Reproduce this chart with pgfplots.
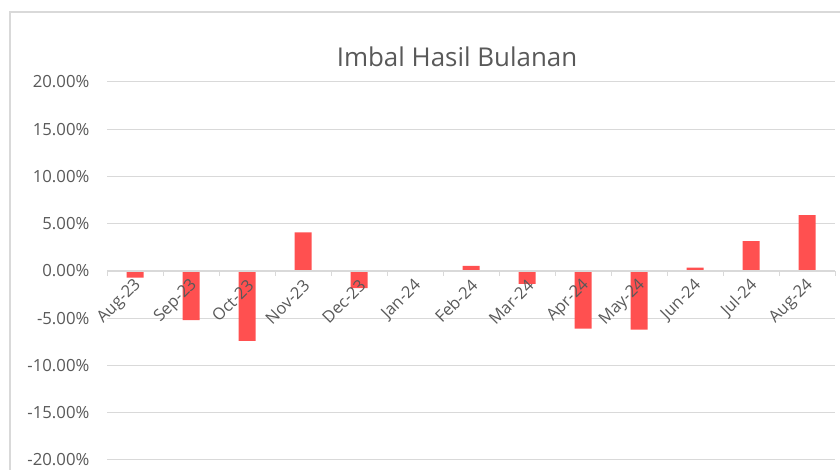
\documentclass[border=0pt]{standalone}
\usepackage{fontspec}
\setmainfont{Open Sans}
\usepackage{pgfplots}
\pgfplotsset{compat=1.18}
\definecolor{txt}{HTML}{595959}
\definecolor{grid}{HTML}{D9D9D9}
\definecolor{barred}{HTML}{FF5050}
\begin{document}
\begin{tikzpicture}
\useasboundingbox (0,0) rectangle (840bp,470bp);
\draw[grid, line width=1.2bp] (10bp,0) -- (10bp,458bp) -- (840bp,458bp);
\begin{axis}[
  axis on top,
  at={(107bp,10bp)}, anchor=south west,
  scale only axis, width=728bp, height=378bp,
  xmin=-0.5, xmax=12.5, ymin=-20, ymax=20,
  axis x line=middle, axis y line=left,
  x axis line style={-, grid, line width=1.2bp},
  y axis line style={draw=none},
  ytick={-20,-15,...,20},
  ytick style={draw=none},
  xtick={0,...,12},
  xticklabels={Aug-23,Sep-23,Oct-23,Nov-23,Dec-23,Jan-24,Feb-24,Mar-24,Apr-24,May-24,Jun-24,Jul-24,Aug-24},
  minor xtick={-0.5,0.5,...,12.5},
  x tick style={grid, line width=1bp},
  major x tick style={draw=none},
  minor tick length=5bp, xtick align=outside,
  /pgf/number format/assume math mode=true,
  yticklabel={\pgfmathprintnumber[fixed,fixed zerofill,precision=2]{\tick}\%},
  yticklabel style={font=\fontsize{16.8}{19}\selectfont, text=txt, anchor=east, xshift=-12bp},
  xticklabel style={font=\fontsize{16.5}{19}\selectfont, text=txt, xshift=6bp, yshift=-5bp, rotate=45, anchor=east},
  title={Imbal Hasil Bulanan},
  title style={font=\fontsize{26}{30}\selectfont, text=txt, at={(0.5,1)}, anchor=base, xshift=-14bp, yshift=10bp},
  ybar, bar width=17bp,
  clip=false,
]
\pgfplotsinvokeforeach{-20,-15,-10,-5,5,10,15,20}{
  \draw[grid, line width=1bp] (axis cs:-0.5,#1) -- (axis cs:12.5,#1);
}
\addplot[fill=barred, draw=none] coordinates {
(0,-0.7) (1,-5.2) (2,-7.4) (3,4.1) (4,-1.8) (5,0) (6,0.55) (7,-1.35) (8,-6.1) (9,-6.2) (10,0.35) (11,3.15) (12,5.9)
};
\end{axis}
\end{tikzpicture}
\end{document}
